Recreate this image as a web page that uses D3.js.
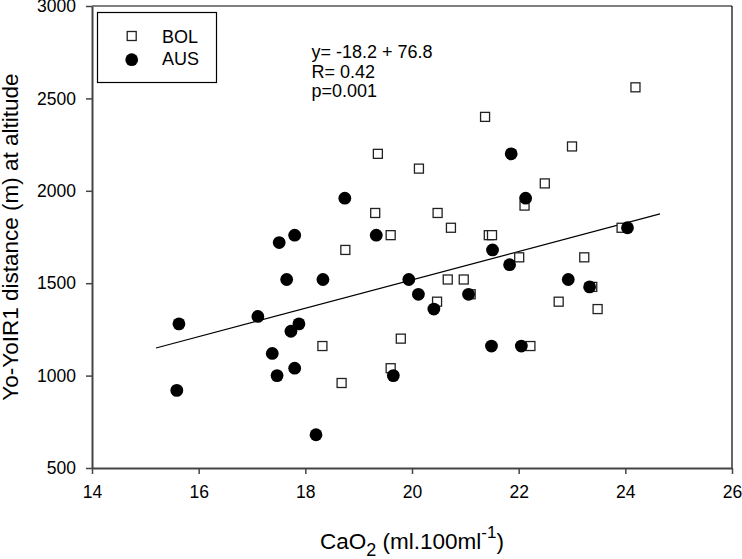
<!DOCTYPE html>
<html>
<head>
<meta charset="utf-8">
<script src="https://cdn.jsdelivr.net/npm/d3@7"></script>
<style>
  html, body { margin: 0; padding: 0; background: #fff; }
  svg { display: block; font-family: "Liberation Sans", Arial, sans-serif; }
</style>
</head>
<body>
<svg id="chart" width="742" height="559"></svg>
<script>
// ---- Data ----
const xTicks = [14, 16, 18, 20, 22, 24, 26];
const yTicks = [500, 1000, 1500, 2000, 2500, 3000];

const bolX = [24.19, 21.37, 19.36, 23.00, 20.13, 22.49, 22.11, 19.31, 20.48, 20.73,
              19.60, 21.44, 21.50, 23.93, 22.01, 23.23, 20.67, 20.97, 21.10, 20.47,
              22.75, 23.38, 23.48, 19.79, 22.22, 19.60, 18.32, 18.68, 18.75];
const bolY = [2560, 2400, 2200, 2240, 2120, 2040, 1920, 1880, 1880, 1800,
              1760, 1760, 1760, 1800, 1640, 1640, 1520, 1520, 1440, 1400,
              1400, 1480, 1360, 1200, 1160, 1040, 1160, 960, 1680];

const ausX = [21.86, 18.74, 17.51, 17.80, 19.33, 17.65, 18.33, 17.11, 15.63, 17.88,
              17.73, 17.38, 17.80, 17.47, 15.59, 18.20, 19.94, 20.12, 20.41, 21.06,
              19.65, 21.49, 22.05, 22.93, 23.33, 21.83, 22.13, 21.51, 24.04];
const ausY = [2200, 1960, 1720, 1760, 1760, 1520, 1520, 1320, 1280, 1280,
              1240, 1120, 1040, 1000, 920, 680, 1520, 1440, 1360, 1440,
              1000, 1160, 1160, 1520, 1480, 1600, 1960, 1680, 1800];

const fitIntercept = -18.2;
const fitSlope = 76.8;
const fitRange = [15.2, 24.65];

const seriesNames = ["BOL", "AUS"];
const annotation = ["y= -18.2 + 76.8", "R= 0.42", "p=0.001"];

// ---- Layout ----
const svg = d3.select("#chart");
const L = 92, R = 732, T = 6, B = 468;

const x = d3.scaleLinear().domain([14, 26]).range([L, R]);
const y = d3.scaleLinear().domain([500, 3000]).range([B, T]);

// frame top/right
svg.append("line").attr("x1", L).attr("x2", R).attr("y1", T).attr("y2", T)
  .attr("stroke", "#000").attr("stroke-width", 1.2);
svg.append("line").attr("x1", R).attr("x2", R).attr("y1", T).attr("y2", B)
  .attr("stroke", "#000").attr("stroke-width", 1.2);

// axes
const xAxis = svg.append("g").attr("transform", `translate(0,${B})`)
  .call(d3.axisBottom(x).tickValues(xTicks).tickSize(6).tickSizeOuter(0).tickPadding(12).tickFormat(d3.format("d")));
const yAxis = svg.append("g").attr("transform", `translate(${L},0)`)
  .call(d3.axisLeft(y).tickValues(yTicks).tickSize(6).tickSizeOuter(0).tickPadding(10).tickFormat(d3.format("d")));

[xAxis, yAxis].forEach(g => {
  g.attr("font-size", 17.5).attr("font-family", "'Liberation Sans', Arial, sans-serif");
  g.select(".domain").attr("stroke", "#444").attr("stroke-width", 2);
  g.selectAll(".tick line").attr("stroke", "#444").attr("stroke-width", 1.5);
  g.selectAll(".tick text").attr("fill", "#000").attr("font-size", 17.5)
    .style("font-size", "17.5px");
});

// regression line
svg.append("line")
  .attr("x1", x(fitRange[0])).attr("y1", y(fitIntercept + fitSlope * fitRange[0]))
  .attr("x2", x(fitRange[1])).attr("y2", y(fitIntercept + fitSlope * fitRange[1]))
  .attr("stroke", "#000").attr("stroke-width", 1.2);

// BOL squares
const sq = 9;
const bol = bolX.map((v, i) => ({ x: v, y: bolY[i] }));
svg.append("g").selectAll("rect").data(bol).join("rect")
  .attr("x", d => x(d.x) - sq / 2).attr("y", d => y(d.y) - sq / 2)
  .attr("width", sq).attr("height", sq)
  .attr("fill", "#fff").attr("stroke", "#222").attr("stroke-width", 1.3);

// AUS circles
const aus = ausX.map((v, i) => ({ x: v, y: ausY[i] }));
svg.append("g").selectAll("circle").data(aus).join("circle")
  .attr("cx", d => x(d.x)).attr("cy", d => y(d.y)).attr("r", 6.4)
  .attr("fill", "#000");

// legend
const lg = svg.append("g");
lg.append("rect").attr("x", 97.5).attr("y", 12.5).attr("width", 119).attr("height", 70)
  .attr("fill", "#fff").attr("stroke", "#000").attr("stroke-width", 1.2);
lg.append("rect").attr("x", 131.7 - sq / 2).attr("y", 36 - sq / 2).attr("width", sq).attr("height", sq)
  .attr("fill", "#fff").attr("stroke", "#222").attr("stroke-width", 1.3);
lg.append("circle").attr("cx", 131.7).attr("cy", 59.7).attr("r", 6.4).attr("fill", "#000");
lg.append("text").attr("x", 162).attr("y", 42.8).style("font-size", "18px").text(seriesNames[0]);
lg.append("text").attr("x", 162).attr("y", 65.4).style("font-size", "18px").text(seriesNames[1]);

// annotation
svg.append("g").selectAll("text").data(annotation).join("text")
  .attr("x", 311.5).attr("y", (d, i) => 58.3 + i * 19.4)
  .style("font-size", "18px").text(d => d);

// axis titles
const xt = svg.append("text").attr("x", (L + R) / 2).attr("y", 549)
  .attr("text-anchor", "middle").style("font-size", "22.5px");
xt.append("tspan").text("CaO");
xt.append("tspan").attr("dy", 7).style("font-size", "18px").text("2");
xt.append("tspan").attr("dy", -7).text(" (ml.100ml");
xt.append("tspan").attr("dy", -11).style("font-size", "17px").text("-1");
xt.append("tspan").attr("dy", 11).text(")");

svg.append("text")
  .attr("transform", `translate(18,${(T + B) / 2}) rotate(-90)`)
  .attr("text-anchor", "middle").style("font-size", "22.5px")
  .text("Yo-YoIR1 distance (m) at altitude");
</script>
</body>
</html>
